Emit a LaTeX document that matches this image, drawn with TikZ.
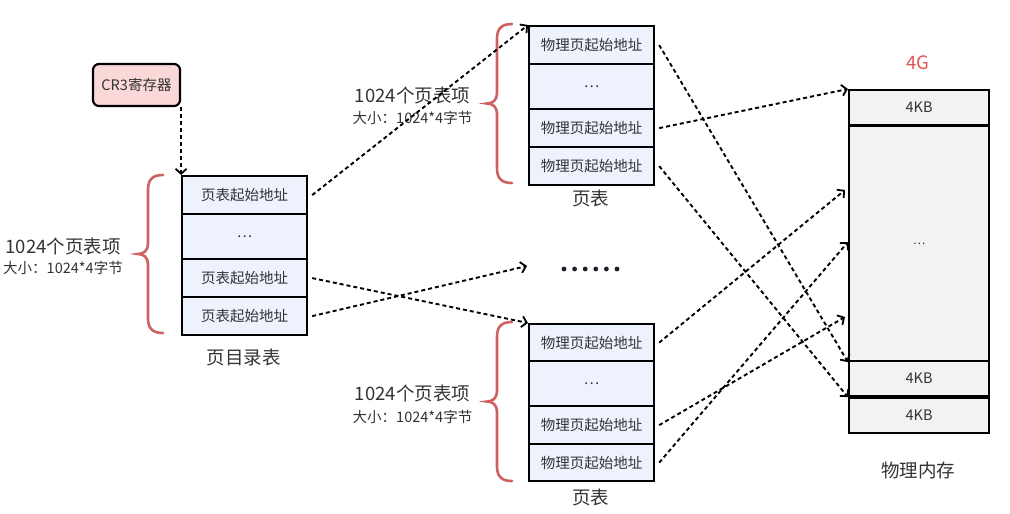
\documentclass[tikz,border=0pt]{standalone}
\usepackage{fontspec}
\newfontfamily\cjk{Noto Sans CJK SC}
\usetikzlibrary{arrows.meta}
\definecolor{cellblue}{RGB}{237,242,252}
\definecolor{memgray}{RGB}{242,242,242}
\definecolor{regpink}{RGB}{250,216,216}
\definecolor{bracered}{RGB}{208,96,96}
\definecolor{txt}{RGB}{51,51,51}
\definecolor{dotc}{RGB}{30,30,40}
\definecolor{gred}{RGB}{220,85,85}

% left curly brace: right edge x, top y, bottom y
\newcommand{\leftcurly}[3]{%
  \draw[curly] (#1,#2) .. controls (#1-11,#2) and (#1-15,#2+5) .. (#1-15,#2+15)
    -- (#1-15,{(#2+#3)/2-10})
    .. controls (#1-15,{(#2+#3)/2-3}) and (#1-20,{(#2+#3)/2}) .. (#1-25,{(#2+#3)/2})
    .. controls (#1-20,{(#2+#3)/2}) and (#1-15,{(#2+#3)/2+3}) .. (#1-15,{(#2+#3)/2+10})
    -- (#1-15,#3-15) .. controls (#1-15,#3-5) and (#1-11,#3) .. (#1,#3);}

\begin{document}
\begin{tikzpicture}[x=1pt,y=-1pt,
  cell/.style={draw=black, line width=2.2pt, fill=cellblue, minimum width=125pt,
    inner sep=0pt, anchor=north west, text=txt, font=\cjk\fontsize{14.5}{14.5}\selectfont},
  mem/.style={draw=black, line width=2.2pt, fill=memgray, minimum width=140pt,
    inner sep=0pt, anchor=north west, text=txt, font=\cjk\fontsize{14.5}{14.5}\selectfont},
  reg/.style={draw=black, line width=2.2pt, fill=regpink, rounded corners=6pt,
    minimum width=87pt, minimum height=42pt, inner sep=0pt, text=txt,
    font=\cjk\fontsize{14.5}{14.5}\selectfont},
  title/.style={text=txt, inner sep=0pt, font=\cjk\fontsize{18.5}{18.5}\selectfont},
  count/.style={text=txt, inner sep=0pt, font=\cjk\fontsize{18.5}{18.5}\selectfont},
  size/.style={text=txt, inner sep=0pt, font=\cjk\fontsize{14.5}{14.5}\selectfont},
  link/.style={draw=black, line width=1.9pt, dash pattern=on 4pt off 3pt,
    -{Straight Barb[length=5pt,width=11pt,line width=1.8pt]}},
  curly/.style={draw=bracered, line width=2.6pt, line cap=round}
]
\useasboundingbox (0,0) rectangle (1010,514);

% CR3 register
\node[reg] (cr3) at (136.5,85) {CR3寄存器};

% page directory
\node[cell, minimum height=38pt] (d1) at (181,175) {页表起始地址};
\node[cell, minimum height=45pt] (d2) at (181,213) {…};
\node[cell, minimum height=38pt] (d3) at (181,258) {页表起始地址};
\node[cell, minimum height=38pt] (d4) at (181,296) {页表起始地址};
\node[title] (dname) at (243.5,357) {页目录表};
\leftcurly{163}{175}{333}
\node[count] (dcount) at (63,246) {1024个页表项};
\node[size] (dsize) at (63,268) {大小：1024*4字节};

% upper page table
\node[cell, minimum height=38pt] (u1) at (528,25) {物理页起始地址};
\node[cell, minimum height=45pt] (u2) at (528,63) {…};
\node[cell, minimum height=38pt] (u3) at (528,108) {物理页起始地址};
\node[cell, minimum height=38pt] (u4) at (528,146) {物理页起始地址};
\node[title] (uname) at (590.5,198) {页表};
\leftcurly{512}{24}{183}
\node[count] (ucount) at (412.5,95) {1024个页表项};
\node[size] (usize) at (412.5,118) {大小：1024*4字节};

% lower page table
\node[cell, minimum height=37pt] (l1) at (528,323) {物理页起始地址};
\node[cell, minimum height=45pt] (l2) at (528,360) {…};
\node[cell, minimum height=38pt] (l3) at (528,405) {物理页起始地址};
\node[cell, minimum height=37pt] (l4) at (528,443) {物理页起始地址};
\node[title] (lname) at (590.5,497) {页表};
\leftcurly{512}{322}{481}
\node[count] (lcount) at (412.5,393) {1024个页表项};
\node[size] (lsize) at (412.5,417) {大小：1024*4字节};

% further page tables
\foreach \k in {0,...,5}
  \fill[dotc] (564+10.6*\k,269) circle (2.4pt);
\coordinate (more) at (527,266);

% physical memory
\node[text=gred, inner sep=0pt, font=\cjk\fontsize{18.5}{18.5}\selectfont] (cap) at (918,63) {4G};
\node[mem, minimum height=34.5pt] (m1) at (848,89) {4KB};
\node[mem, minimum height=235pt, font=\cjk\fontsize{11.5}{11.5}\selectfont] (m2) at (848,125) {…};
\node[mem, minimum height=35pt] (m3) at (848,360) {4KB};
\node[mem, minimum height=35pt] (m4) at (848,397) {4KB};
\node[title] (mname) at (918,470) {物理内存};
\coordinate (pA) at (845,190);
\coordinate (pB) at (845,317);
\coordinate (pC) at (848,242);

% register -> directory
\draw[link] (cr3.south east) -- (cr3.south east |- d1.north);

% directory -> page tables
\draw[link] ([xshift=4pt]d1.east) -- (u1.north west);
\draw[link] ([xshift=4pt]d3.east) -- (l1.north west);
\draw[link] ([xshift=4pt]d4.east) -- (more);

% page tables -> physical pages
\draw[link] ([xshift=4pt]u1.east) -- (m2.south west);
\draw[link] ([xshift=4pt]u3.east) -- (m1.north west);
\draw[link] ([xshift=4pt]u4.east) -- (m3.south west);
\draw[link] ([xshift=4pt]l1.east) -- (pA);
\draw[link] ([xshift=4pt]l3.east) -- (pB);
\draw[link] ([xshift=4pt]l4.east) -- (pC);
\end{tikzpicture}
\end{document}
